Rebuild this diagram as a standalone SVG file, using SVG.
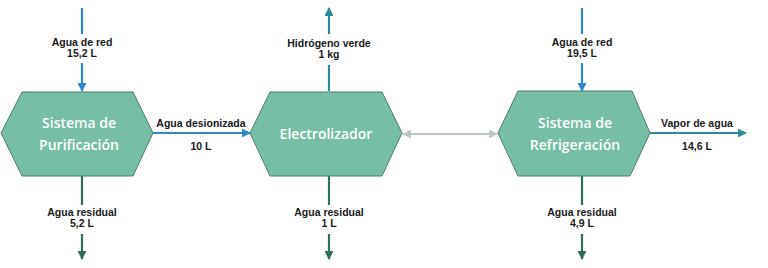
<svg xmlns="http://www.w3.org/2000/svg" width="768" height="268" viewBox="0 0 768 268">
<defs>
<style>
.hex{fill:#76bea5;stroke:#4d7f6c;stroke-width:1}
.ht{font-family:"Open Sans","Liberation Sans",sans-serif;font-weight:600;font-size:14px;fill:#ffffff;text-anchor:middle}
.lb{font-family:"Liberation Sans",Arial,sans-serif;font-weight:bold;font-size:10.5px;fill:#1a1a1a;text-anchor:middle}
.blue{stroke:#2f87d0;stroke-width:2.2;fill:none}
.teal{stroke:#2b8b96;stroke-width:2.2;fill:none}
.dg{stroke:#2e6e5b;stroke-width:2.2;fill:none}
.gray{stroke:#bcc6c6;stroke-width:2.2;fill:none}
</style>
<marker id="ab" viewBox="0 0 10 10" refX="9" refY="5" markerWidth="4" markerHeight="4" orient="auto-start-reverse" markerUnits="strokeWidth"><path d="M0,0L10,5L0,10z" fill="#2f87d0"/></marker>
<marker id="at" viewBox="0 0 10 10" refX="9" refY="5" markerWidth="4" markerHeight="4" orient="auto-start-reverse" markerUnits="strokeWidth"><path d="M0,0L10,5L0,10z" fill="#2b8b96"/></marker>
<marker id="ad" viewBox="0 0 10 10" refX="9" refY="5" markerWidth="4" markerHeight="4" orient="auto-start-reverse" markerUnits="strokeWidth"><path d="M0,0L10,5L0,10z" fill="#2e6e5b"/></marker>
<marker id="ag" viewBox="0 0 10 10" refX="9" refY="5" markerWidth="4" markerHeight="4" orient="auto-start-reverse" markerUnits="strokeWidth"><path d="M0,0L10,5L0,10z" fill="#bcc6c6"/></marker>
</defs>
<rect width="768" height="268" fill="#ffffff"/>
<g id="connectors">
<line class="blue" x1="82" y1="8" x2="82" y2="34"/>
<line class="blue" x1="82" y1="63" x2="82" y2="91" marker-end="url(#ab)"/>
<line class="dg" x1="82" y1="176" x2="82" y2="205"/>
<line class="dg" x1="82" y1="234" x2="82" y2="259" marker-end="url(#ad)"/>
<line class="blue" x1="153" y1="133" x2="250" y2="133" marker-end="url(#ab)"/>
<line class="teal" x1="329" y1="91" x2="329" y2="65"/>
<line class="teal" x1="329" y1="34" x2="329" y2="8" marker-end="url(#at)"/>
<line class="dg" x1="329" y1="176" x2="329" y2="205"/>
<line class="dg" x1="329" y1="234" x2="329" y2="259" marker-end="url(#ad)"/>
<line class="gray" x1="403" y1="134" x2="497" y2="134" marker-start="url(#ag)" marker-end="url(#ag)"/>
<line class="blue" x1="582" y1="8" x2="582" y2="34"/>
<line class="blue" x1="582" y1="63" x2="582" y2="91" marker-end="url(#ab)"/>
<line class="dg" x1="582" y1="176" x2="582" y2="205"/>
<line class="dg" x1="582" y1="234" x2="582" y2="259" marker-end="url(#ad)"/>
<line class="teal" x1="650" y1="133" x2="746" y2="133" marker-end="url(#at)"/>
</g>
<g id="purificacion">
<polygon class="hex" points="22,92 133,92 153,133 133,176 22,176 1,133"/>
<text class="ht" x="79" y="128">Sistema de</text>
<text class="ht" x="79" y="150">Purificación</text>
</g>
<g id="electrolizador">
<polygon class="hex" points="270,92 382,92 402,133 382,176 270,176 250,133"/>
<text class="ht" x="326" y="139">Electrolizador</text>
</g>
<g id="refrigeracion">
<polygon class="hex" points="518,91 632,91 650,133 630,176 518,176 498,133"/>
<text class="ht" x="575" y="128">Sistema de</text>
<text class="ht" x="575" y="150">Refrigeración</text>
</g>
<g id="labels">
<text class="lb" x="82" y="46">Agua de red</text>
<text class="lb" x="82" y="57">15,2 L</text>
<text class="lb" x="82" y="216">Agua residual</text>
<text class="lb" x="82" y="227">5,2 L</text>
<text class="lb" x="201" y="127">Agua desionizada</text>
<text class="lb" x="201" y="150">10 L</text>
<text class="lb" x="329" y="47">Hidrógeno verde</text>
<text class="lb" x="329" y="58">1 kg</text>
<text class="lb" x="329" y="216">Agua residual</text>
<text class="lb" x="329" y="227">1 L</text>
<text class="lb" x="582" y="46">Agua de red</text>
<text class="lb" x="582" y="57">19,5 L</text>
<text class="lb" x="582" y="216">Agua residual</text>
<text class="lb" x="582" y="227">4,9 L</text>
<text class="lb" x="697" y="127">Vapor de agua</text>
<text class="lb" x="697" y="150">14,6 L</text>
</g>
</svg>
